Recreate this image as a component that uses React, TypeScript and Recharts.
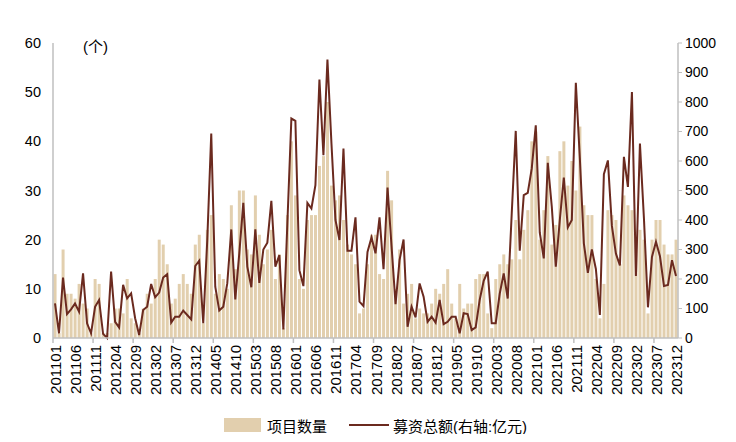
import React from "react";
import { ComposedChart, Bar, Line, XAxis, YAxis, Legend } from "recharts";

// 2011-01 .. 2023-12, one category per month
const years = ["2011", "2012", "2013", "2014", "2015", "2016", "2017", "2018", "2019", "2020", "2021", "2022", "2023"];
const monthNums = ["01", "02", "03", "04", "05", "06", "07", "08", "09", "10", "11", "12"];
const months: string[] = [];
years.forEach((y) => monthNums.forEach((m) => months.push(y + m)));

// 项目数量 (left axis, 个)
const projectCount = [
  13, 1, 18, 9, 9, 8, 11, 7, 6, 1,
  12, 11, 1, 1, 3, 6, 6, 5, 12, 4,
  3, 1, 6, 9, 7, 12, 20, 19, 15, 7,
  8, 11, 13, 11, 9, 19, 21, 3, 22, 25,
  9, 13, 12, 10, 27, 14, 30, 30, 18, 17,
  29, 21, 15, 18, 22, 12, 17, 2, 25, 40,
  29, 12, 10, 24, 25, 25, 35, 37, 48, 31,
  28, 29, 24, 19, 17, 15, 5, 6, 15, 21,
  21, 13, 12, 34, 28, 10, 18, 7, 9, 11,
  4, 6, 5, 5, 7, 10, 9, 11, 14, 7,
  4, 11, 6, 7, 7, 12, 13, 13, 5, 2,
  12, 15, 17, 15, 16, 24, 16, 22, 26, 40,
  42, 20, 26, 37, 19, 23, 38, 40, 31, 36,
  30, 43, 27, 25, 25, 12, 4, 11, 26, 25,
  24, 15, 29, 27, 26, 20, 22, 20, 5, 20,
  24, 24, 19, 17, 17, 20,
];

// 募资总额 (right axis, 亿元)
const raisedAmount = [
  117, 16, 205, 81, 97, 117, 89, 219, 50, 16,
  106, 129, 14, 0, 225, 55, 36, 180, 134, 151,
  67, 10, 95, 106, 183, 138, 154, 205, 216, 52,
  72, 72, 93, 78, 63, 244, 262, 50, 330, 693,
  174, 93, 106, 185, 368, 131, 287, 458, 242, 172,
  368, 187, 300, 323, 465, 242, 281, 29, 390, 744,
  736, 230, 176, 458, 439, 518, 876, 620, 944, 660,
  400, 332, 642, 296, 296, 409, 123, 108, 292, 341,
  287, 409, 233, 510, 312, 115, 264, 334, 38, 106,
  70, 185, 140, 55, 72, 52, 129, 47, 55, 72,
  72, 16, 84, 81, 27, 36, 129, 194, 225, 50,
  50, 150, 219, 134, 422, 702, 296, 484, 492, 575,
  721, 357, 270, 594, 445, 242, 400, 544, 375, 400,
  865, 610, 321, 221, 300, 234, 78, 555, 602, 380,
  286, 246, 614, 512, 834, 210, 659, 405, 104, 275,
  326, 277, 176, 180, 264, 210,
];

const leftTicks = [0, 10, 20, 30, 40, 50, 60];
const rightTicks = [0, 100, 200, 300, 400, 500, 600, 700, 800, 900, 1000];

const data = months.map((m, i) => ({
  month: m,
  count: projectCount[i],
  amount: raisedAmount[i],
}));

const BAR_COLOR = "#E2CFAE";
const LINE_COLOR = "#6B2A1F";
const AXIS_COLOR = "#BFBFBF";
const FONT = "'Liberation Sans', Arial, 'Noto Sans CJK SC', sans-serif";
const HALF_BAND = 2;

const XTick = (props: any) => {
  const { x, y, payload } = props;
  const i = props.index ?? payload.index;
  return (
    <g>
      {i % 10 === 0 && (
        <line x1={x - HALF_BAND} x2={x - HALF_BAND} y1={y} y2={y + 5} stroke={AXIS_COLOR} strokeWidth={1.5} />
      )}
      {i % 5 === 0 && (
        <text
          transform={`translate(${x + 6},${y + 7}) rotate(-90)`}
          textAnchor="end"
          fontSize={15}
          fontFamily={FONT}
          fill="#000"
        >
          {payload.value}
        </text>
      )}
    </g>
  );
};

const LegendContent = () => (
  <div
    style={{
      display: "flex",
      justifyContent: "center",
      alignItems: "center",
      paddingTop: 8,
      paddingLeft: 20,
      height: 18,
      fontFamily: FONT,
      fontSize: 15,
      color: "#000",
    }}
  >
    <span style={{ display: "inline-block", width: 37, height: 14, background: BAR_COLOR, marginRight: 6 }} />
    <span>项目数量</span>
    <span style={{ display: "inline-block", width: 40, height: 2, background: LINE_COLOR, marginLeft: 22, marginRight: 4 }} />
    <span>募资总额(右轴:亿元)</span>
  </div>
);

export default function App() {
  return (
    <div style={{ position: "relative", width: 720, height: 426 }}>
      <ComposedChart
        width={720}
        height={426}
        data={data}
        margin={{ top: 35, right: 10, bottom: 0, left: 5 }}
        barCategoryGap="14%"
      >
        <XAxis
          dataKey="month"
          interval={0}
          height={70}
          tickSize={0}
          tickMargin={0}
          tick={<XTick />}
          axisLine={{ stroke: AXIS_COLOR, strokeWidth: 1.5 }}
        />
        <YAxis
          yAxisId="left"
          domain={[0, 60]}
          ticks={leftTicks}
          width={40}
          tickSize={0}
          tickMargin={12}
          tickLine={false}
          axisLine={{ stroke: AXIS_COLOR, strokeWidth: 1.5 }}
          tick={{ fontSize: 14.5, fill: "#000", fontFamily: FONT }}
        />
        <YAxis
          yAxisId="right"
          orientation="right"
          domain={[0, 1000]}
          ticks={rightTicks}
          width={40}
          tickSize={4}
          tickMargin={3}
          tickLine={{ stroke: AXIS_COLOR }}
          axisLine={{ stroke: AXIS_COLOR, strokeWidth: 1.5 }}
          tick={{ fontSize: 14, fill: "#000", fontFamily: FONT }}
        />
        <Legend verticalAlign="bottom" content={<LegendContent />} />
        <Bar yAxisId="left" dataKey="count" fill={BAR_COLOR} isAnimationActive={false} />
        <Line
          yAxisId="right"
          type="linear"
          dataKey="amount"
          stroke={LINE_COLOR}
          strokeWidth={2}
          dot={false}
          activeDot={false}
          isAnimationActive={false}
        />
      </ComposedChart>
      <div
        style={{
          position: "absolute",
          left: 75,
          top: 30,
          fontSize: 15,
          lineHeight: "18px",
          fontFamily: FONT,
        }}
      >
        (个)
      </div>
    </div>
  );
}
